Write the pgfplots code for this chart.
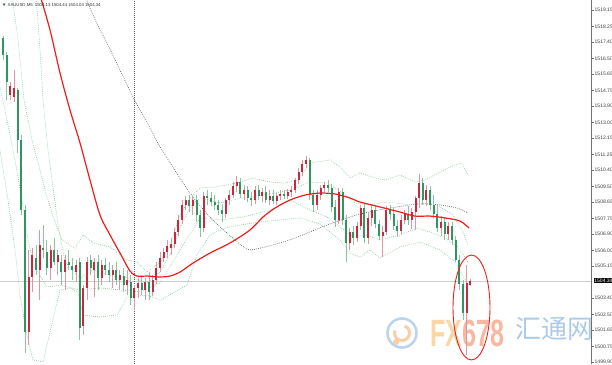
\documentclass[border=0pt]{standalone}
\usepackage{pgfplots}
\pgfplotsset{compat=1.18}
\usepackage{pgfplotstable}
\usepackage{fontspec}
\setmainfont{Liberation Sans}
\newfontfamily\cjk{Noto Sans CJK SC}

\definecolor{bull}{RGB}{200,40,62}
\definecolor{bear}{RGB}{48,150,95}
\definecolor{bullwick}{RGB}{222,150,160}
\definecolor{bearwick}{RGB}{135,198,160}
\definecolor{band}{RGB}{120,200,145}
\definecolor{fastma}{RGB}{236,30,30}
\definecolor{slowma}{RGB}{95,95,95}
\definecolor{wmyellow}{RGB}{250,215,165}
\definecolor{wmsalmon}{RGB}{246,184,160}
\definecolor{wmblue}{RGB}{172,202,234}
\definecolor{wmorange}{RGB}{248,196,150}

% XAUUSD M5 candles: x position, open, high, low, close
\pgfplotstableread{
x o h l c
3.0 1517.62 1517.73 1516.42 1516.69
6.7 1516.69 1516.86 1514.23 1515.21
10.3 1514.50 1515.21 1514.23 1515.00
14.0 1514.39 1515.87 1514.12 1514.89
17.6 1514.78 1514.89 1511.33 1512.04
21.3 1512.04 1512.32 1507.94 1508.21
24.9 1508.21 1508.49 1500.39 1501.54
28.6 1501.54 1506.03 1500.83 1504.55
32.2 1504.55 1506.13 1503.73 1505.75
35.9 1505.59 1506.30 1504.66 1504.93
39.5 1504.93 1507.12 1503.29 1506.30
43.2 1506.13 1507.39 1505.59 1506.03
46.8 1505.92 1506.57 1504.66 1505.04
50.5 1505.04 1506.30 1504.38 1506.03
54.1 1506.03 1506.68 1505.20 1505.37
57.8 1505.37 1506.03 1504.66 1505.75
61.4 1505.37 1505.75 1504.11 1504.82
65.0 1504.82 1505.75 1503.84 1505.48
68.7 1505.37 1506.03 1504.93 1505.20
72.4 1505.15 1505.59 1504.38 1504.93
76.0 1504.82 1505.48 1504.27 1505.20
79.7 1505.37 1505.59 1501.10 1501.76
83.3 1501.87 1504.11 1501.38 1503.95
87.0 1503.95 1505.64 1503.29 1505.37
90.6 1505.48 1505.75 1504.66 1505.04
94.3 1504.93 1505.59 1503.45 1505.37
97.9 1505.37 1505.75 1503.84 1504.49
101.6 1504.49 1505.48 1504.11 1505.20
105.2 1505.20 1505.59 1504.66 1504.93
108.9 1504.93 1505.37 1504.27 1504.66
112.5 1504.66 1505.20 1503.95 1504.93
116.2 1504.93 1505.37 1504.11 1504.38
119.8 1504.38 1504.93 1503.84 1504.66
123.5 1504.60 1505.04 1503.73 1504.11
127.1 1504.11 1504.93 1503.56 1504.38
130.8 1504.27 1504.66 1503.02 1503.40
134.4 1503.40 1504.11 1502.74 1503.95
138.0 1503.95 1504.49 1503.40 1504.22
141.7 1504.22 1504.60 1503.56 1503.84
145.4 1503.84 1504.49 1503.29 1504.27
149.0 1504.27 1504.82 1503.29 1503.73
152.7 1503.73 1504.66 1503.51 1504.38
156.3 1504.38 1505.37 1504.17 1505.04
160.0 1505.04 1505.92 1504.82 1505.59
163.6 1505.59 1506.13 1505.37 1505.92
167.3 1505.92 1506.57 1505.59 1506.24
170.9 1506.13 1506.68 1505.75 1506.35
174.6 1506.35 1507.23 1506.13 1507.01
178.2 1507.01 1507.94 1506.79 1507.67
181.9 1507.67 1508.76 1507.45 1508.49
185.5 1508.49 1508.98 1508.21 1508.76
189.2 1508.76 1509.03 1508.10 1508.43
192.8 1508.43 1508.92 1507.94 1508.76
196.5 1508.76 1509.03 1507.56 1507.94
200.1 1507.94 1508.21 1506.74 1507.23
203.8 1507.23 1509.20 1507.01 1508.98
207.4 1508.98 1509.31 1508.49 1508.87
211.0 1508.87 1509.20 1508.43 1508.65
214.7 1508.65 1509.03 1508.21 1508.49
218.4 1508.49 1508.76 1507.94 1508.21
222.0 1508.21 1508.54 1507.56 1507.99
225.7 1507.99 1508.87 1507.78 1508.76
229.3 1508.76 1509.31 1508.49 1509.03
233.0 1509.03 1509.74 1508.87 1509.53
236.6 1509.53 1510.07 1509.20 1509.74
240.3 1509.74 1509.96 1508.87 1509.09
243.9 1509.09 1509.58 1508.76 1509.31
247.6 1509.31 1509.53 1508.65 1508.87
251.2 1508.87 1509.20 1508.43 1508.76
254.9 1508.76 1509.53 1508.54 1509.31
258.5 1509.31 1509.58 1508.76 1508.98
262.2 1508.98 1509.42 1508.65 1509.20
265.8 1509.20 1509.53 1508.60 1508.76
269.5 1508.76 1509.31 1508.49 1508.98
273.1 1508.98 1509.31 1508.54 1508.71
276.8 1508.71 1509.14 1508.49 1508.98
280.4 1508.98 1509.31 1508.76 1509.09
284.0 1509.09 1509.31 1508.81 1508.98
287.7 1508.98 1509.36 1508.81 1509.20
291.4 1509.20 1509.53 1508.92 1509.31
295.0 1509.31 1509.96 1509.14 1509.85
298.7 1509.85 1510.51 1509.64 1510.29
302.3 1510.29 1510.95 1510.07 1510.73
306.0 1510.73 1511.17 1510.51 1510.95
309.6 1510.95 1511.06 1508.76 1509.03
313.3 1509.03 1509.31 1508.10 1508.49
316.9 1508.49 1509.31 1508.21 1509.03
320.6 1509.03 1509.58 1508.76 1509.42
324.2 1509.42 1509.74 1509.20 1509.58
327.9 1509.58 1509.85 1509.20 1509.42
331.5 1509.42 1509.64 1508.10 1508.38
335.2 1508.38 1508.76 1507.28 1507.67
338.8 1507.67 1509.42 1507.45 1509.20
342.5 1509.20 1509.42 1507.39 1507.67
346.1 1507.67 1507.94 1505.37 1506.41
349.8 1506.41 1507.23 1506.03 1507.01
353.4 1507.01 1507.34 1506.30 1506.68
357.0 1506.68 1507.56 1506.46 1507.34
360.7 1507.34 1508.49 1507.12 1508.32
364.4 1508.32 1508.54 1506.41 1506.68
368.0 1506.68 1508.10 1506.35 1507.78
371.7 1507.78 1508.49 1507.34 1508.21
375.3 1508.21 1508.43 1507.23 1507.45
379.0 1507.45 1507.67 1506.57 1506.79
382.6 1506.79 1507.34 1505.64 1507.01
386.3 1507.01 1508.43 1506.85 1508.21
389.9 1508.21 1508.49 1507.67 1507.99
393.6 1507.99 1508.32 1507.12 1507.34
397.2 1507.34 1507.67 1506.74 1507.06
400.9 1507.06 1507.94 1506.90 1507.67
404.5 1507.67 1508.21 1507.45 1507.99
408.2 1507.99 1508.43 1507.39 1507.67
411.8 1507.67 1508.32 1507.17 1508.10
415.5 1508.10 1508.98 1507.12 1508.87
419.1 1508.87 1510.18 1508.32 1509.69
422.8 1509.69 1509.96 1508.49 1508.76
426.4 1508.76 1509.58 1508.43 1509.31
430.0 1509.31 1509.53 1508.21 1508.49
433.7 1508.49 1509.03 1507.78 1507.99
437.4 1507.99 1508.49 1507.01 1507.23
441.0 1507.23 1507.88 1506.79 1507.56
444.7 1507.56 1507.78 1506.57 1506.90
448.3 1506.90 1507.56 1506.57 1507.34
452.0 1507.34 1507.56 1506.30 1506.57
455.6 1506.57 1506.79 1505.37 1505.48
459.3 1505.48 1505.75 1503.84 1504.17
462.9 1504.17 1504.38 1502.20 1502.58
466.6 1502.58 1505.20 1500.28 1504.22
470.2 1504.13 1504.44 1504.04 1504.34
}\candles

\pgfplotsset{
  wick/.style={only marks, mark=*, mark options={opacity=0},
    error bars/.cd, y dir=plus, y explicit, error mark=none,
    error bar style={line width=0.7pt, color=#1}},
  body/.style={only marks, mark=*, mark options={opacity=0},
    error bars/.cd, y dir=plus, y explicit, error mark=none,
    error bar style={line width=2pt, color=#1}},
  bandline/.style={band, line width=0.6pt, dash pattern=on 0.7pt off 1.3pt},
}

\begin{document}
\begin{tikzpicture}[x=1pt,y=1pt]
\fill[white] (0,0) rectangle (612,364);

% watermark
\begin{scope}[opacity=0.8]
  \draw[wmblue, line width=2.6pt] (402,31) circle (14.5);
  \draw[wmorange, line width=3pt] (402,31) ++(160:7.5) arc (160:430:7.5);
  \fill[wmorange] (396,22) circle (3);
\end{scope}
\node[anchor=base west, inner sep=0pt] at (430,18)
  {\fontsize{38}{38}\selectfont\bfseries\scalebox{0.66}[1]{\textcolor{wmyellow}{FX}\textcolor{wmsalmon}{678}}};
\node[anchor=base west, inner sep=0pt] at (515,26)
  {\cjk\fontsize{26}{26}\selectfont\textcolor{wmblue}{汇通网}};

\begin{axis}[
  at={(0,0)}, anchor=south west,
  scale only axis, width=591pt, height=364pt,
  xmin=0, xmax=591, ymin=1499.79, ymax=1519.70,
  axis x line=none, axis y line*=right,
  axis line style={black!55, line width=0.6pt},
  tick align=outside, major tick length=2.5pt,
  tick style={black!55, line width=0.5pt},
  ytick={1499.90,1500.75,1501.65,1502.50,1503.40,1505.15,1506.00,1506.90,1507.75,1508.65,1509.50,1510.40,1511.25,1512.15,1513.00,1513.90,1514.75,1515.65,1516.50,1517.40,1518.25,1519.15},
  yticklabels={1499.90,1500.75,1501.65,1502.50,1503.40,1505.15,1506.00,1506.90,1507.75,1508.65,1509.50,1510.40,1511.25,1512.15,1513.00,1513.90,1514.75,1515.65,1516.50,1517.40,1518.25,1519.15},
  yticklabel style={font=\fontsize{5}{6}\selectfont, text=black!75, inner sep=1pt},
  clip mode=individual,
]

% bid line and period separator
\addplot[black!20, line width=0.6pt] coordinates {(0,1504.34) (591,1504.34)};
\addplot[slowma, line width=0.6pt, dash pattern=on 0.8pt off 1.2pt] coordinates {(134,1499.79) (134,1519.70)};

% Bollinger-type envelopes
\addplot[bandline] coordinates {(12,1519.97) (18,1517.51) (24,1514.23) (32,1512.04) (40,1510.40) (47,1508.92) (55,1507.56) (62,1506.57) (75,1506.13) (83,1506.85) (93,1506.41) (110,1506.19) (127,1505.48) (137,1505.37) (147,1504.82) (160,1505.37) (170,1506.30) (180,1507.94) (190,1508.87) (200,1509.42) (215,1509.47) (227,1509.58) (240,1509.74) (253,1509.96) (270,1509.74) (285,1509.69) (298,1509.85) (310,1510.78) (330,1510.95) (340,1510.57) (350,1509.96) (360,1510.24) (372,1510.02) (385,1509.85) (400,1510.13) (415,1509.74) (425,1509.85) (440,1510.29) (452,1510.62) (462,1510.78) (468,1510.13)};
\addplot[bandline] coordinates {(36,1519.97) (40,1516.97) (43,1514.23) (48,1511.50) (53,1509.47) (58,1507.39) (65,1505.37) (80,1504.49) (93,1504.93) (117,1504.55) (133,1504.49) (147,1504.22) (160,1504.82) (170,1505.75) (180,1507.23) (190,1508.38) (200,1508.87) (220,1508.60) (237,1508.81) (255,1508.98) (270,1509.09) (290,1509.31) (310,1509.74) (327,1509.69) (343,1509.14) (355,1508.60) (370,1508.49) (387,1508.65) (410,1508.49) (420,1508.60) (437,1508.49) (453,1507.94) (463,1507.01) (468,1506.30)};
\addplot[bandline] coordinates {(0,1514.94) (7,1513.14) (15,1510.95) (22,1508.76) (28,1506.57) (35,1505.04) (47,1504.00) (60,1504.11) (80,1503.84) (100,1503.95) (120,1503.84) (140,1503.73) (160,1504.22) (180,1506.03) (200,1507.78) (220,1507.67) (243,1507.83) (270,1508.21) (290,1508.76) (310,1508.21) (327,1507.83) (340,1507.28) (353,1506.74) (365,1506.85) (380,1506.57) (400,1506.85) (417,1507.23) (430,1507.01) (445,1506.68) (458,1506.19) (468,1505.37)};
\addplot[bandline] coordinates {(0,1511.50) (8,1508.76) (15,1506.03) (20,1503.56) (27,1501.38) (33,1500.01) (43,1499.90) (50,1501.54) (60,1503.84) (70,1503.95) (78,1503.73) (83,1502.47) (100,1502.36) (117,1502.47) (127,1503.45) (147,1503.56) (160,1503.29) (175,1503.73) (187,1504.11) (197,1505.75) (210,1506.85) (225,1507.23) (240,1507.39) (260,1507.56) (280,1507.67) (300,1507.78) (320,1507.45) (340,1506.57) (350,1505.86) (360,1505.64) (370,1506.03) (380,1505.59) (400,1506.19) (420,1506.46) (440,1506.03) (455,1505.37) (468,1504.11)};

% slow moving average
\addplot[slowma, line width=0.6pt, dash pattern=on 0.8pt off 1.2pt, smooth] coordinates {(85,1519.97) (90,1519.26) (100,1518.06) (107,1517.35) (133,1514.39) (150,1512.70) (162,1511.50) (190,1509.14) (210,1507.83) (227,1506.95) (247,1506.08) (260,1506.13) (283,1506.46) (300,1506.79) (330,1507.45) (360,1507.99) (390,1508.32) (420,1508.54) (440,1508.49) (457,1508.32) (468,1508.05)};

% candles: wicks, then bodies
\addplot[bearwick, restrict expr to domain={\thisrow{c}-\thisrow{o}}{-100:0}, wick=bearwick]
  table[x=x, y=l, y error expr=\thisrow{h}-\thisrow{l}] {\candles};
\addplot[bullwick, restrict expr to domain={\thisrow{c}-\thisrow{o}}{0.001:100}, wick=bullwick]
  table[x=x, y=l, y error expr=\thisrow{h}-\thisrow{l}] {\candles};
\addplot[bear, restrict expr to domain={\thisrow{c}-\thisrow{o}}{-100:0}, body=bear]
  table[x=x, y expr={min(\thisrow{o},\thisrow{c})}, y error expr={max(abs(\thisrow{c}-\thisrow{o}),0.04)}] {\candles};
\addplot[bull, restrict expr to domain={\thisrow{c}-\thisrow{o}}{0.001:100}, body=bull]
  table[x=x, y expr={min(\thisrow{o},\thisrow{c})}, y error expr={max(abs(\thisrow{c}-\thisrow{o}),0.04)}] {\candles};

% fast moving average
\addplot[fastma, line width=1.2pt, smooth] coordinates {(40,1519.97) (50,1518.06) (60,1515.71) (70,1513.68) (80,1511.88) (90,1509.85) (100,1507.94) (110,1506.85) (120,1505.86) (130,1504.88) (137,1504.60) (147,1504.60) (160,1504.55) (170,1504.60) (180,1504.82) (193,1505.31) (210,1505.86) (230,1506.41) (250,1507.12) (263,1507.83) (275,1508.32) (290,1508.76) (305,1509.03) (320,1509.14) (335,1509.09) (350,1508.87) (360,1508.65) (380,1508.38) (400,1508.10) (415,1507.88) (430,1507.88) (445,1507.78) (460,1507.61) (469,1507.23)};

% highlight around the latest bars
\draw[fastma, line width=0.9pt] (axis cs:471.5,1502.88) ellipse [x radius=18.5, y radius=2.87];

% current price tag
\node[fill=black, text=white, inner sep=0.7pt, anchor=west, xshift=2.5pt,
      font=\fontsize{5}{6}\selectfont] at (axis cs:591,1504.34) {1504.34};
\end{axis}

\node[anchor=north west, inner sep=0pt, text=black!80, font=\fontsize{4.3}{5}\selectfont]
  at (2,361) {▼ XAUUSD,M5\enspace 1504.13 1504.44 1504.04 1504.34};

\pgfresetboundingbox
\path (0,0) rectangle (612,364);
\end{tikzpicture}
\end{document}
